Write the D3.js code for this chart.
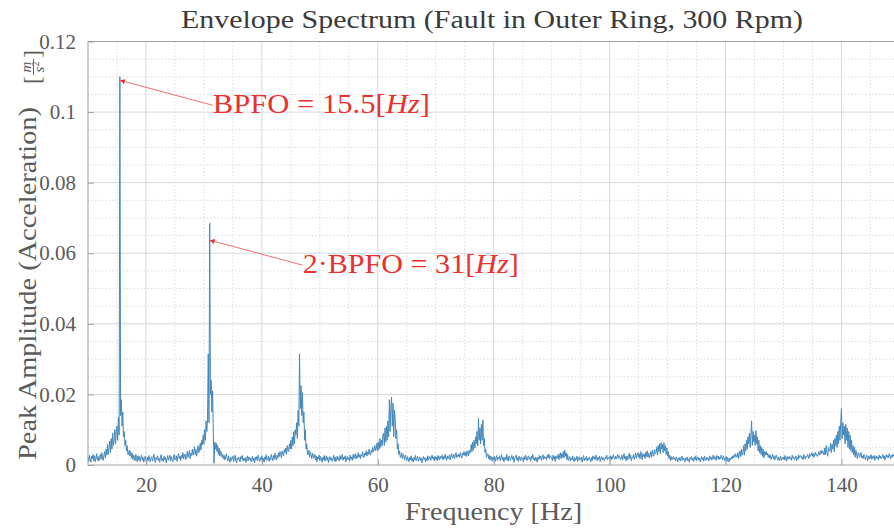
<!DOCTYPE html>
<html>
<head>
<meta charset="utf-8">
<script src="https://cdn.jsdelivr.net/npm/d3@7/dist/d3.min.js"></script>
<style>
  html, body { margin: 0; padding: 0; background: #fff; }
  svg { display: block; }
  text { font-family: "Liberation Serif", "DejaVu Serif", serif; }
</style>
</head>
<body>
<svg id="chart" width="894" height="530"></svg>
<script>
// Envelope spectrum, sampled every 0.125 Hz, stored in 10 Hz bands.
// Amplitudes are in units of 1e-4 m/s^2; each row covers 1 Hz.
const freqStep = 0.125;
const band010 = [
  22, 10, 28, 15, 8, 25, 18, 30,
  12, 26, 9, 20, 32, 14, 24, 11,
  19, 30, 16, 35, 22, 13, 28, 38,
  20, 45, 28, 58, 30, 50, 68, 35,
  75, 45, 90, 55, 70, 100, 60, 95,
  110, 70, 135, 85, 1100, 140, 185, 110,
  150, 80, 95, 55, 70, 40, 55, 30,
  30, 42, 25, 38, 20, 33, 15, 28,
  22, 12, 30, 18, 9, 26, 14, 24,
  10, 20, 28, 13, 22, 8, 18, 25
];
const band020 = [
  15, 6, 22, 12, 27, 17, 9, 20,
  24, 11, 18, 30, 14, 7, 21, 16,
  26, 13, 19, 8, 23, 29, 12, 18,
  10, 25, 15, 21, 6, 17, 27, 13,
  20, 28, 11, 24, 16, 9, 22, 30,
  14, 19, 26, 10, 23, 32, 18, 25,
  12, 28, 20, 35, 17, 26, 31, 15,
  24, 38, 21, 30, 42, 18, 33, 27,
  45, 28, 36, 52, 30, 44, 25, 40,
  55, 35, 48, 62, 42, 70, 58, 85
];
const band030 = [
  60, 100, 70, 125, 95, 130, 315, 120,
  685, 200, 240, 150, 210, 90, 5, 65,
  45, 62, 38, 55, 30, 48, 25, 40,
  35, 22, 30, 18, 27, 14, 24, 32,
  20, 11, 26, 16, 8, 22, 13, 19,
  25, 10, 18, 28, 12, 6, 20, 15,
  22, 14, 9, 24, 17, 27, 11, 19,
  13, 21, 7, 18, 26, 12, 23, 16,
  20, 9, 16, 25, 11, 19, 6, 22,
  15, 24, 12, 28, 18, 10, 21, 14
];
const band040 = [
  26, 11, 19, 8, 23, 16, 29, 13,
  18, 25, 10, 21, 14, 30, 20, 12,
  27, 16, 33, 22, 14, 28, 19, 35,
  24, 38, 29, 20, 40, 31, 26, 44,
  35, 48, 30, 55, 42, 38, 60, 45,
  70, 45, 80, 55, 95, 60, 100, 85,
  120, 75, 155, 110, 315, 160, 225, 140,
  205, 120, 150, 70, 100, 45, 60, 30,
  30, 42, 22, 36, 28, 18, 33, 25,
  20, 30, 14, 26, 9, 22, 17, 28
];
const band050 = [
  12, 24, 18, 8, 21, 15, 27, 11,
  19, 26, 13, 22, 7, 17, 24, 14,
  20, 10, 16, 28, 12, 23, 9, 18,
  25, 14, 21, 11, 27, 16, 20, 30,
  13, 22, 17, 26, 9, 19, 24, 15,
  21, 11, 28, 16, 23, 13, 30, 18,
  25, 32, 17, 27, 20, 35, 22, 29,
  18, 30, 24, 38, 26, 21, 34, 28,
  40, 25, 36, 30, 45, 32, 28, 42,
  35, 50, 38, 45, 55, 40, 48, 62
];
const band060 = [
  40, 65, 45, 75, 50, 70, 55, 85,
  90, 55, 105, 65, 110, 70, 125, 80,
  185, 95, 160, 192, 110, 175, 80, 155,
  130, 75, 100, 45, 60, 30, 40, 22,
  22, 35, 18, 30, 25, 14, 28, 20,
  12, 24, 17, 9, 21, 15, 26, 11,
  18, 8, 22, 14, 27, 12, 19, 25,
  10, 17, 23, 13, 20, 6, 16, 24,
  15, 21, 9, 18, 12, 26, 14, 20,
  24, 13, 19, 28, 17, 22, 11, 25
];
const band070 = [
  16, 22, 12, 27, 19, 14, 25, 18,
  21, 28, 15, 24, 18, 30, 20, 13,
  26, 17, 22, 29, 14, 25, 32, 19,
  23, 30, 18, 27, 35, 21, 28, 24,
  31, 22, 36, 26, 20, 33, 28, 38,
  27, 35, 24, 40, 30, 26, 42, 33,
  35, 58, 38, 65, 42, 70, 48, 80,
  60, 95, 55, 132, 70, 105, 60, 115,
  70, 128, 55, 75, 35, 45, 22, 30,
  32, 18, 28, 14, 25, 20, 11, 22
];
const band080 = [
  15, 24, 10, 19, 27, 13, 21, 17,
  26, 12, 20, 29, 15, 22, 9, 18,
  23, 14, 30, 17, 11, 25, 19, 13,
  20, 27, 16, 24, 8, 18, 22, 28,
  14, 21, 10, 25, 17, 12, 23, 16,
  19, 9, 24, 15, 28, 20, 13, 22,
  26, 16, 21, 11, 25, 18, 30, 14,
  20, 12, 23, 17, 8, 22, 15, 27,
  18, 25, 13, 21, 29, 16, 24, 19,
  23, 15, 28, 20, 31, 18, 26, 22
];
const band090 = [
  22, 12, 28, 16, 24, 10, 26, 18,
  20, 30, 15, 26, 35, 18, 32, 22,
  38, 20, 42, 25, 35, 15, 30, 12,
  18, 24, 11, 20, 14, 26, 16, 9,
  21, 13, 17, 25, 10, 19, 23, 14,
  16, 22, 8, 18, 27, 12, 20, 15,
  24, 11, 19, 14, 22, 17, 9, 21,
  13, 26, 18, 23, 15, 28, 20, 12,
  22, 16, 25, 10, 19, 24, 14, 21,
  17, 12, 23, 19, 28, 15, 22, 18
];
const band100 = [
  20, 26, 14, 24, 18, 29, 21, 16,
  25, 17, 22, 30, 19, 27, 23, 15,
  18, 28, 14, 25, 32, 17, 24, 12,
  26, 15, 24, 33, 18, 28, 12, 22,
  20, 30, 16, 25, 34, 19, 27, 35,
  22, 32, 18, 38, 25, 15, 33, 24,
  30, 18, 36, 24, 40, 22, 33, 20,
  28, 38, 22, 42, 30, 25, 44, 32,
  35, 50, 28, 55, 38, 60, 32, 63,
  45, 58, 35, 63, 40, 55, 30, 48
];
const band110 = [
  25, 38, 18, 28, 12, 24, 15, 20,
  24, 16, 20, 12, 23, 17, 9, 19,
  14, 22, 11, 18, 25, 13, 20, 16,
  9, 19, 15, 23, 12, 17, 8, 21,
  16, 24, 13, 19, 10, 22, 15, 26,
  12, 18, 23, 14, 20, 9, 17, 24,
  15, 21, 11, 25, 18, 13, 22, 16,
  20, 12, 26, 17, 23, 14, 19, 28,
  16, 24, 20, 13, 27, 19, 25, 15,
  22, 18, 28, 21, 14, 26, 20, 12
];
const band120 = [
  18, 24, 10, 21, 15, 8, 20, 14,
  23, 17, 26, 20, 29, 22, 32, 25,
  22, 35, 18, 30, 40, 24, 45, 28,
  35, 55, 28, 60, 40, 70, 45, 80,
  60, 90, 50, 85, 125, 55, 95, 65,
  85, 55, 97, 60, 80, 40, 70, 35,
  55, 30, 50, 25, 45, 20, 38, 28,
  38, 28, 33, 22, 30, 19, 27, 16,
  24, 30, 18, 26, 14, 22, 28, 20,
  15, 23, 12, 19, 25, 13, 21, 17
];
const band130 = [
  22, 14, 27, 18, 11, 24, 16, 20,
  25, 17, 21, 13, 28, 19, 23, 15,
  18, 26, 12, 22, 16, 29, 20, 24,
  27, 19, 23, 15, 30, 21, 17, 25,
  22, 30, 26, 18, 32, 24, 28, 35,
  25, 33, 21, 29, 36, 27, 31, 24,
  30, 38, 28, 35, 42, 32, 40, 36,
  28, 48, 30, 55, 35, 25, 50, 40,
  40, 62, 35, 58, 45, 70, 38, 75,
  55, 85, 50, 95, 60, 110, 70, 120
];
const band140 = [
  160, 75, 120, 85, 110, 60, 115, 70,
  105, 50, 95, 45, 85, 40, 70, 35,
  55, 28, 50, 22, 42, 30, 18, 35,
  32, 22, 28, 36, 20, 26, 18, 30,
  24, 15, 22, 28, 12, 20, 26, 17,
  21, 29, 16, 24, 19, 27, 13, 22,
  26, 18, 23, 15, 28, 20, 25, 17,
  22, 30, 19, 26, 14, 24, 29, 21,
  27, 20, 32, 24, 18, 28, 22, 30,
  25, 33, 21, 28, 35, 26, 30, 24,
  28
];
const bandStarts = [10, 20, 30, 40, 50, 60, 70, 80, 90, 100, 110, 120, 130, 140];
const bands = [band010, band020, band030, band040, band050, band060, band070,
               band080, band090, band100, band110, band120, band130, band140];

// Axis ticks
const xTicks = [20, 40, 60, 80, 100, 120, 140];
const xTickLabels = ["20", "40", "60", "80", "100", "120", "140"];
const yTicks = [0, 0.02, 0.04, 0.06, 0.08, 0.1, 0.12];
const yTickLabels = ["0", "0.02", "0.04", "0.06", "0.08", "0.1", "0.12"];

// Fault frequency callouts
const faultFreqs = [15.5, 31];
const faultPrefixes = ["", "2\u00B7"];
const faultValues = ["15.5", "31"];

const titleText = "Envelope Spectrum (Fault in Outer Ring, 300 Rpm)";
const xLabelText = "Frequency [Hz]";
const yLabelText = "Peak Amplitude (Acceleration)";

const data = bands.flatMap((band, b) =>
  band.map((a, i) => ({ f: bandStarts[b] + i * freqStep, a: a * 1e-4 })));

const svg = d3.select("#chart");
const plotL = 88, plotR = 899.4, plotT = 41.5, plotB = 465;

const x = d3.scaleLinear().domain([10, 150]).range([plotL, plotR]);
const y = d3.scaleLinear().domain([0, 0.12]).range([plotB, plotT]);

const gridMajor = "#d3d8de";
const gridMinor = "#dcdcdc";
const axisColor = "#9da3aa";
const labelColor = "#5a5a5a";

// Minor grid (dotted)
const xMinor = d3.range(15, 150, 5).filter(v => v % 20 !== 0);
const yMinor = d3.range(0.005, 0.12, 0.005).filter(v => Math.abs(v / 0.02 - Math.round(v / 0.02)) > 1e-6);
const grid = svg.append("g");
grid.selectAll("line.xmin").data(xMinor).join("line")
  .attr("x1", d => x(d)).attr("x2", d => x(d)).attr("y1", plotT).attr("y2", plotB)
  .attr("stroke", gridMinor).attr("stroke-width", 1).attr("stroke-dasharray", "1.5,2");
grid.selectAll("line.ymin").data(yMinor).join("line")
  .attr("x1", plotL).attr("x2", plotR).attr("y1", d => y(d)).attr("y2", d => y(d))
  .attr("stroke", gridMinor).attr("stroke-width", 1).attr("stroke-dasharray", "1.5,2");
// Major grid (solid)
grid.selectAll("line.xmaj").data(xTicks).join("line")
  .attr("x1", d => x(d)).attr("x2", d => x(d)).attr("y1", plotT).attr("y2", plotB)
  .attr("stroke", gridMajor).attr("stroke-width", 1);
grid.selectAll("line.ymaj").data(yTicks.slice(1, -1)).join("line")
  .attr("x1", plotL).attr("x2", plotR).attr("y1", d => y(d)).attr("y2", d => y(d))
  .attr("stroke", gridMajor).attr("stroke-width", 1);

// Spectrum
const line = d3.line().x(d => x(d.f)).y(d => y(d.a));
svg.append("path").datum(data)
  .attr("d", line)
  .attr("fill", "none")
  .attr("stroke", "#4387bb")
  .attr("stroke-width", 1)
  .attr("stroke-linejoin", "round");

// Axes box
svg.append("rect")
  .attr("x", plotL).attr("y", plotT).attr("width", plotR - plotL).attr("height", plotB - plotT)
  .attr("fill", "none").attr("stroke", axisColor).attr("stroke-width", 1);

// Axes with inward ticks
const xAxis = d3.axisBottom(x).tickValues(xTicks)
  .tickFormat((d, i) => xTickLabels[i]).tickSizeInner(-6).tickSizeOuter(0).tickPadding(12);
const gx = svg.append("g").attr("transform", `translate(0,${plotB})`).call(xAxis);
gx.select(".domain").remove();
gx.selectAll(".tick line").attr("stroke", axisColor);
gx.selectAll(".tick text").attr("fill", labelColor).attr("font-size", 21)
  .attr("font-family", "'Liberation Serif', serif");

const yAxis = d3.axisLeft(y).tickValues(yTicks)
  .tickFormat((d, i) => yTickLabels[i]).tickSizeInner(-6).tickSizeOuter(0).tickPadding(12);
const gy = svg.append("g").attr("transform", `translate(${plotL},0)`).call(yAxis);
gy.select(".domain").remove();
gy.selectAll(".tick line").attr("stroke", axisColor);
gy.selectAll(".tick text").attr("fill", labelColor).attr("font-size", 21)
  .attr("font-family", "'Liberation Serif', serif");

// Title
svg.append("text")
  .attr("x", 492).attr("y", 28)
  .attr("text-anchor", "middle")
  .attr("font-size", 26)
  .attr("fill", "#3a3a3a")
  .attr("textLength", 622).attr("lengthAdjust", "spacingAndGlyphs")
  .text(titleText);

// X label
svg.append("text")
  .attr("x", 405).attr("y", 520)
  .attr("font-size", 26)
  .attr("fill", labelColor)
  .attr("textLength", 177).attr("lengthAdjust", "spacingAndGlyphs")
  .text(xLabelText);

// Y label with unit fraction
const yl = svg.append("g").attr("transform", "translate(36,460) rotate(-90)");
yl.append("text").attr("x", 0).attr("y", 0)
  .attr("font-size", 26).attr("fill", labelColor)
  .attr("textLength", 353).attr("lengthAdjust", "spacingAndGlyphs")
  .text(yLabelText);
yl.append("text").attr("x", 376).attr("y", 4).attr("font-size", 23).attr("fill", labelColor).text("[");
yl.append("text").attr("x", 410).attr("y", 4).attr("font-size", 23).attr("fill", labelColor)
  .attr("text-anchor", "end").text("]");
yl.append("text").attr("x", 393).attr("y", -5).attr("font-size", 15).attr("font-style", "italic")
  .attr("text-anchor", "middle").attr("fill", labelColor).text("m");
yl.append("line").attr("x1", 385).attr("x2", 401).attr("y1", -2.5).attr("y2", -2.5)
  .attr("stroke", labelColor).attr("stroke-width", 0.9);
const den = yl.append("text").attr("x", 393).attr("y", 8).attr("font-size", 15)
  .attr("text-anchor", "middle").attr("fill", labelColor);
den.append("tspan").attr("font-style", "italic").text("s");
den.append("tspan").attr("font-size", 10).attr("dy", -5).text("2");

// Fault frequency callouts
const red = "#ec2f2f";
svg.append("defs").append("marker")
  .attr("id", "arrowHead")
  .attr("viewBox", "0 0 10 10").attr("refX", 10).attr("refY", 5)
  .attr("markerWidth", 7).attr("markerHeight", 5)
  .attr("markerUnits", "userSpaceOnUse")
  .attr("orient", "auto")
  .append("path").attr("d", "M0,0 L10,5 L0,10 Z").attr("fill", red);

// tip sits just below each peak; text is placed down and to the right
const tipAmps = [0.109, 0.0637];
const textOffsets = [[93, 25], [93, 25]];
const textWidths = [217, 216];
faultFreqs.forEach((f, i) => {
  const tx = x(f), ty = y(tipAmps[i]);
  const sx = tx + textOffsets[i][0], sy = ty + textOffsets[i][1];
  svg.append("line")
    .attr("x1", sx).attr("y1", sy).attr("x2", tx).attr("y2", ty)
    .attr("stroke", "#f07070").attr("stroke-width", 1)
    .attr("marker-end", "url(#arrowHead)");
  const t = svg.append("text")
    .attr("x", sx).attr("y", sy + 8)
    .attr("font-size", 27).attr("fill", red)
    .attr("textLength", textWidths[i]).attr("lengthAdjust", "spacingAndGlyphs");
  t.append("tspan").text(faultPrefixes[i] + "BPFO = " + faultValues[i] + "[");
  t.append("tspan").attr("font-style", "italic").text("Hz");
  t.append("tspan").text("]");
});
</script>
</body>
</html>
